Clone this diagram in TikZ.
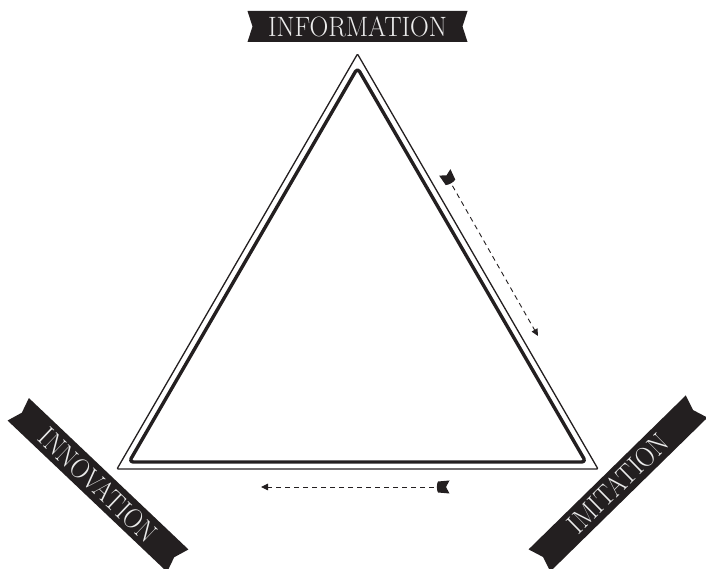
\documentclass[tikz,border=0pt]{standalone}
\usepackage{fontspec}
\usepackage{graphicx}
\usetikzlibrary{arrows.meta}
\definecolor{ink}{HTML}{231F20}
\tikzset{
  x=1pt, y=1pt,
  thinline/.style={draw=ink, line width=1.3pt, line join=round, rounded corners=1pt},
  thickline/.style={draw=ink, line width=3.4pt, line join=round, rounded corners=4pt},
  flow/.style={draw=ink, line width=0.9pt, dash pattern=on 5pt off 4pt, -{Triangle[length=7pt,width=6.5pt]}},
  bannertext/.style={text=white!92!black, inner sep=0pt, font=\fontsize{28}{30}\selectfont},
  ribbon/.pic={\fill[ink] (-110,-15.5) -- (110,-15.5) -- (105,0) -- (110,15.5) -- (-110,15.5) -- (-105,0) -- cycle;},
  flagtail/.pic={\fill[ink] (-6.5,-6.5) -- (5,-5.5) .. controls (6.5,-3) and (6.5,3) .. (5,5.5) -- (-6.5,6.5) -- (-3,0) -- cycle;}
}
\begin{document}
\begin{tikzpicture}
\useasboundingbox (0,0) rectangle (706,569);
% triangle corners
\coordinate (oA) at (357.5,515);
\coordinate (oB) at (117,100);
\coordinate (oC) at (598,100);
\coordinate (iA) at (357.5,501);
\coordinate (iB) at (129.1,107);
\coordinate (iC) at (585.9,107);
\draw[thinline] (oA) -- (oB) -- (oC) -- cycle;
\draw[thickline] (iA) -- (iB) -- (iC) -- cycle;
% ribbons
\pic at (357.5,542.5) {ribbon};
\node[bannertext] (information) at (357.5,542.5) {\scalebox{0.93}[1]{INFORMATION}};
\pic[rotate=-43.5] at (98,84) {ribbon};
\node[bannertext, rotate=-43.5] (innovation) at (98,84) {\scalebox{0.9}[1]{INNOVATION}};
\pic[rotate=44.4] at (618,85.5) {ribbon};
\node[bannertext, rotate=44.4] (imitation) at (618,85.5) {\scalebox{0.9}[1]{IMITATION}};
% dashed arrows
\coordinate (t1) at (448,391);
\coordinate (h1) at (538,233);
\draw[flow] (t1) -- (h1);
\pic[rotate=-60.3] at (t1) {flagtail};
\coordinate (t2) at (443,82);
\coordinate (h2) at (261,82);
\draw[flow] (t2) -- (h2);
\pic[rotate=180] at (t2) {flagtail};
\end{tikzpicture}
\end{document}
